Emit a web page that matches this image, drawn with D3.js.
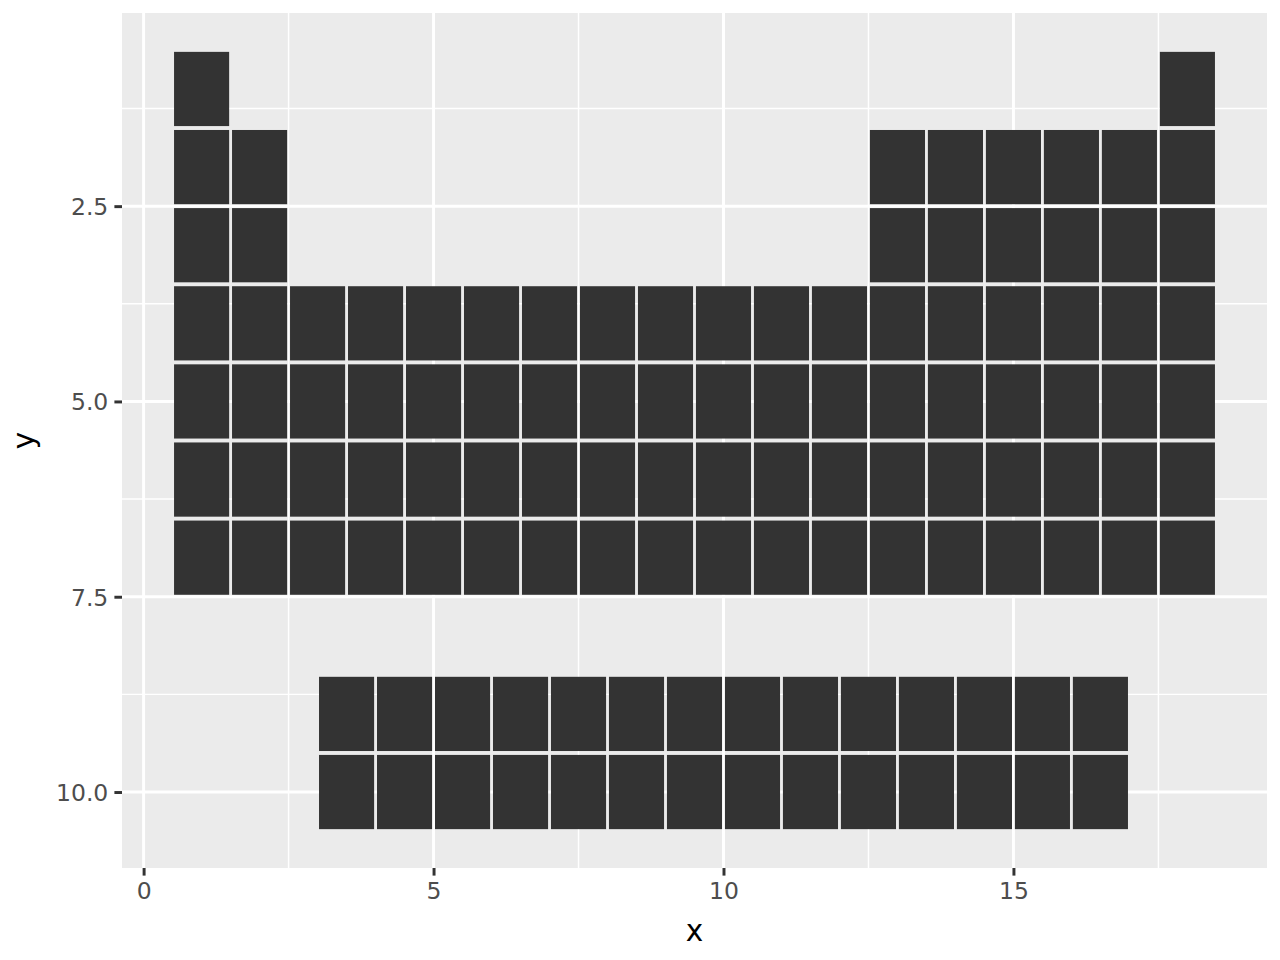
<!DOCTYPE html>
<html>
<head>
<meta charset="utf-8">
<script src="https://cdn.jsdelivr.net/npm/d3@7"></script>
<style>
  html, body { margin: 0; padding: 0; background: #ffffff; }
  svg { display: block; }
</style>
</head>
<body>
<svg id="chart" width="1280" height="960"></svg>
<script>
// ---- data ----
const mainRows = [1, 2, 3, 4, 5, 6, 7];
const mainColumns = [
  [1, 18],
  [1, 2, 13, 14, 15, 16, 17, 18],
  [1, 2, 13, 14, 15, 16, 17, 18],
  [1, 2, 3, 4, 5, 6, 7, 8, 9, 10, 11, 12, 13, 14, 15, 16, 17, 18],
  [1, 2, 3, 4, 5, 6, 7, 8, 9, 10, 11, 12, 13, 14, 15, 16, 17, 18],
  [1, 2, 3, 4, 5, 6, 7, 8, 9, 10, 11, 12, 13, 14, 15, 16, 17, 18],
  [1, 2, 3, 4, 5, 6, 7, 8, 9, 10, 11, 12, 13, 14, 15, 16, 17, 18]
];
const fRows = [9, 10];
const fColumns = [3.5, 4.5, 5.5, 6.5, 7.5, 8.5, 9.5, 10.5, 11.5, 12.5, 13.5, 14.5, 15.5, 16.5];

const xTicks = [0, 5, 10, 15];
const xTickLabels = ["0", "5", "10", "15"];
const xMinor = [2.5, 7.5, 12.5, 17.5];
const yTicks = [2.5, 5, 7.5, 10];
const yTickLabels = ["2.5", "5.0", "7.5", "10.0"];
const yMinor = [1.25, 3.75, 6.25, 8.75];

// ---- build tiles ----
const tiles = [];
mainRows.forEach((r, i) => mainColumns[i].forEach(c => tiles.push({ x: c, y: r })));
fRows.forEach(r => fColumns.forEach(c => tiles.push({ x: c, y: r })));

const tileSize = 0.95;
const half = tileSize / 2;

const panel = { left: 122, top: 13, right: 1267, bottom: 868 };

const xMin = d3.min(tiles, d => d.x) - half, xMax = d3.max(tiles, d => d.x) + half;
const yMin = d3.min(tiles, d => d.y) - half, yMax = d3.max(tiles, d => d.y) + half;
const xExp = (xMax - xMin) * 0.05, yExp = (yMax - yMin) * 0.05;

const x = d3.scaleLinear().domain([xMin - xExp, xMax + xExp]).range([panel.left, panel.right]);
const y = d3.scaleLinear().domain([yMin - yExp, yMax + yExp]).range([panel.top, panel.bottom]);

const svg = d3.select("#chart");

svg.append("rect")
  .attr("x", panel.left).attr("y", panel.top)
  .attr("width", panel.right - panel.left).attr("height", panel.bottom - panel.top)
  .attr("fill", "#EBEBEB");

const grid = svg.append("g");
grid.selectAll(".xminor").data(xMinor).join("line")
  .attr("x1", d => x(d)).attr("x2", d => x(d))
  .attr("y1", panel.top).attr("y2", panel.bottom)
  .attr("stroke", "#ffffff").attr("stroke-width", 1.48);
grid.selectAll(".yminor").data(yMinor).join("line")
  .attr("y1", d => y(d)).attr("y2", d => y(d))
  .attr("x1", panel.left).attr("x2", panel.right)
  .attr("stroke", "#ffffff").attr("stroke-width", 1.48);
grid.selectAll(".xmajor").data(xTicks).join("line")
  .attr("x1", d => x(d)).attr("x2", d => x(d))
  .attr("y1", panel.top).attr("y2", panel.bottom)
  .attr("stroke", "#ffffff").attr("stroke-width", 2.96);
grid.selectAll(".ymajor").data(yTicks).join("line")
  .attr("y1", d => y(d)).attr("y2", d => y(d))
  .attr("x1", panel.left).attr("x2", panel.right)
  .attr("stroke", "#ffffff").attr("stroke-width", 2.96);

// tiles
svg.append("g").selectAll("rect").data(tiles).join("rect")
  .attr("x", d => x(d.x - half))
  .attr("y", d => y(d.y - half))
  .attr("width", d => x(d.x + half) - x(d.x - half))
  .attr("height", d => y(d.y + half) - y(d.y - half))
  .attr("fill", "#333333");

// axes
const font = "'DejaVu Sans', Verdana, sans-serif";
const xAxis = d3.axisBottom(x).tickValues(xTicks).tickFormat((d, i) => xTickLabels[i])
  .tickSize(7.6).tickPadding(6.1);
const gx = svg.append("g").attr("transform", `translate(0,${panel.bottom})`).call(xAxis);
gx.select(".domain").remove();
gx.selectAll(".tick line").attr("stroke", "#333333").attr("stroke-width", 2.96);
gx.selectAll(".tick text").attr("fill", "#4D4D4D").attr("font-family", font).attr("font-size", 23.5)
  .attr("dy", "0.74em");

const yAxis = d3.axisLeft(y).tickValues(yTicks).tickFormat((d, i) => yTickLabels[i])
  .tickSize(7.6).tickPadding(6.1);
const gy = svg.append("g").attr("transform", `translate(${panel.left},0)`).call(yAxis);
gy.select(".domain").remove();
gy.selectAll(".tick line").attr("stroke", "#333333").attr("stroke-width", 2.96);
gy.selectAll(".tick text").attr("fill", "#4D4D4D").attr("font-family", font).attr("font-size", 23.5)
  .attr("dy", "0.36em");

// axis titles
svg.append("text")
  .attr("x", (panel.left + panel.right) / 2).attr("y", 941)
  .attr("text-anchor", "middle").attr("font-family", font).attr("font-size", 29.5)
  .attr("fill", "#000000").text("x");
svg.append("text")
  .attr("transform", `translate(34,${(panel.top + panel.bottom) / 2}) rotate(-90)`)
  .attr("text-anchor", "middle").attr("font-family", font).attr("font-size", 29.5)
  .attr("fill", "#000000").text("y");
</script>
</body>
</html>
